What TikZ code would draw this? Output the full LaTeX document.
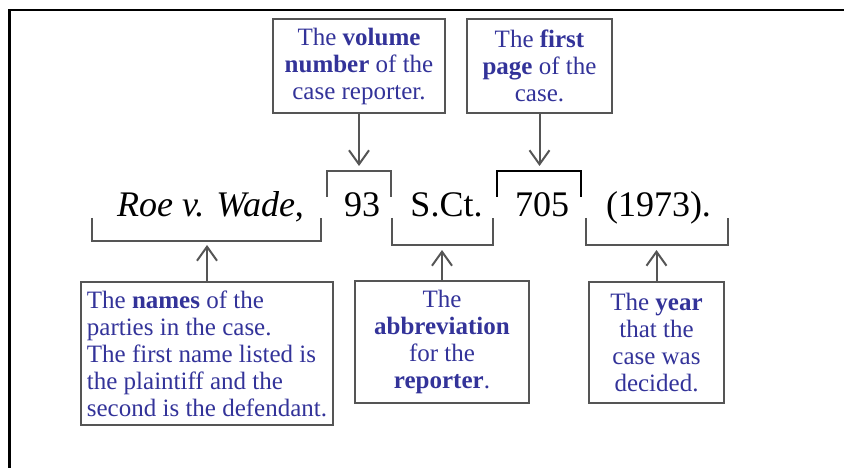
\documentclass[tikz,border=0pt]{standalone}
\usepackage{fontspec}
\setmainfont{Liberation Serif}
\usetikzlibrary{arrows.meta}
\definecolor{ink}{RGB}{51,51,153}
\definecolor{edge}{RGB}{85,85,85}
\begin{document}
\begin{tikzpicture}[x=1pt, y=-1pt,
  box/.style={draw=edge, line width=2.5pt, text=ink, inner sep=0pt, align=center,
    font=\fontsize{25}{27}\selectfont},
  cite/.style={anchor=base, inner sep=0pt, font=\fontsize{36}{40}\selectfont},
  brk/.style={draw=edge, line width=1.8pt},
  arr/.style={draw=edge, line width=2pt, -{Straight Barb[length=14pt,width=20pt]}}
]
\useasboundingbox (0,0) rectangle (844,468);
\draw[line width=2.5pt] (9.5,475) -- (9.5,10) -- (850,10);

% the citation
\node[cite] (roe)  at (210.5,216) {\textit{Roe v. Wade},};
\node[cite] (vnum) at (362,216)   {93};
\node[cite] (rep)  at (446.5,216) {S.Ct.};
\node[cite] (pg)   at (542,216)   {705};
\node[cite] (yr)   at (658.5,216) {(1973).};

% brackets
\draw[brk] (92,218) |- (321,241) -- (321,218);
\draw[brk] (327,197) |- (391,171) -- (391,197);
\draw[brk] (392,218) |- (493,245) -- (493,218);
\draw[brk, draw=black] (497,197) |- (581,171) -- (581,197);
\draw[brk] (586,218) |- (728,245) -- (728,218);

% notes
\node[box, minimum width=172pt, minimum height=94pt] (volnote) at (359,66)
  {The \textbf{volume}\\\textbf{number} of the\\case reporter.};
\node[box, minimum width=145pt, minimum height=94pt] (pgnote) at (539.5,66)
  {The \textbf{first}\\\textbf{page} of the\\case.};
\node[box, align=left, minimum width=252pt, minimum height=143pt] (roenote) at (207,353.5)
  {The \textbf{names} of the\\parties in the case.\\The first name listed is\\the plaintiff and the\\second is the defendant.};
\node[box, minimum width=174pt, minimum height=122pt] (repnote) at (442,342)
  {The\\\textbf{abbreviation}\\for the\\\textbf{reporter}.};
\node[box, minimum width=135pt, minimum height=121pt] (yrnote) at (656.5,342.5)
  {The \textbf{year}\\that the\\case was\\decided.};

% arrow tips
\coordinate (voltip) at (359,166);
\coordinate (pgtip)  at (539.5,166);
\coordinate (roetip) at (207,245);
\coordinate (reptip) at (442,250);
\coordinate (yrtip)  at (656.5,250);

\draw[arr] (volnote) -- (voltip);
\draw[arr] (pgnote) -- (pgtip);
\draw[arr] (roenote) -- (roetip);
\draw[arr] (repnote) -- (reptip);
\draw[arr] (yrnote) -- (yrtip);
\end{tikzpicture}
\end{document}
